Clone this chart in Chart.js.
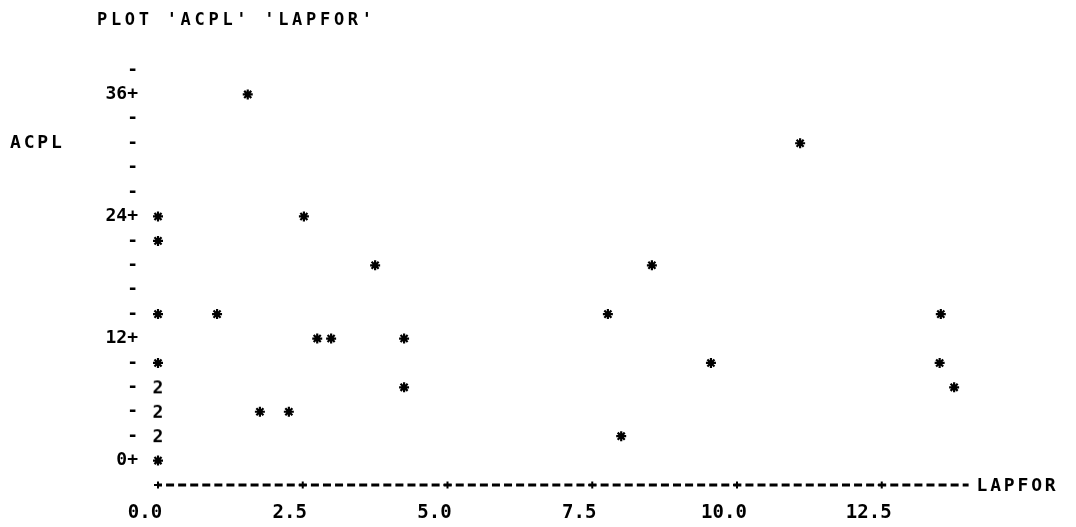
<!DOCTYPE html>
<html>
<head>
<meta charset="utf-8">
<script src="https://cdn.jsdelivr.net/npm/chart.js@4.4.1/dist/chart.umd.min.js"></script>
<style>
  html, body { margin: 0; padding: 0; background: #ffffff; }
  #c { display: block; }
</style>
</head>
<body>
<canvas id="c" width="1076" height="527"></canvas>
<script>
// Session command echoed above the plot, and the variable names
const commandLine = "PLOT 'ACPL' 'LAPFOR'";
const yName = "ACPL";
const xName = "LAPFOR";

// Observations (LAPFOR on x, ACPL on y)
const lapfor = [
  0, 0, 0, 0, 0, 0, 0, 0, 0, 0, 0,
  1.55, 2.52, 3.75, 1.02, 2.75, 2.99, 4.25, 4.25, 1.76, 2.26,
  11.09, 8.53, 7.77, 13.52, 9.55, 13.5, 13.75, 8.0
];
const acpl = [
  24, 21.6, 14.4, 9.6, 7.2, 7.2, 4.8, 4.8, 2.4, 2.4, 0,
  36, 24, 19.2, 14.4, 12, 12, 12, 7.2, 4.8, 4.8,
  31.2, 19.2, 14.4, 14.4, 9.6, 9.6, 7.2, 2.4
];

// Axis ticks: x tick values, the character rows of the y axis and the labelled rows
const xTicks = [0, 2.5, 5, 7.5, 10, 12.5];
const yRows = [0, 2.4, 4.8, 7.2, 9.6, 12, 14.4, 16.8, 19.2, 21.6, 24, 26.4, 28.8, 31.2, 33.6, 36, 38.4];
const yLabelled = [0, 12, 24, 36];
const yNameRow = 31.2;

const MONO = '"DejaVu Sans Mono", "Liberation Mono", monospace';

// Group coincident observations: single ones get '*', stacked ones get their count
const cells = new Map();
lapfor.forEach((x, i) => {
  const key = x + '|' + acpl[i];
  const cell = cells.get(key) || { x: x, y: acpl[i], n: 0 };
  cell.n += 1;
  cells.set(key, cell);
});
const singles = [];
const stacked = [];
for (const cell of cells.values()) {
  (cell.n > 1 ? stacked : singles).push(cell);
}

const glyphCache = {};
function countGlyph(n) {
  if (!glyphCache[n]) {
    const c = document.createElement('canvas');
    c.width = 16; c.height = 22;
    const g = c.getContext('2d');
    g.font = 'bold 18px ' + MONO;
    g.fillStyle = '#000';
    g.textAlign = 'center';
    g.textBaseline = 'middle';
    g.fillText(String(n), 8, 12);
    glyphCache[n] = c;
  }
  return glyphCache[n];
}

// Dashed axis line, '+' marks and the surrounding text of the character-style frame
const charFrame = {
  id: 'charFrame',
  afterDraw(chart) {
    const { ctx, chartArea, scales } = chart;
    const xs = scales.x, ys = scales.y;
    const yb = chartArea.bottom;
    ctx.save();
    ctx.fillStyle = '#000';
    ctx.strokeStyle = '#000';

    // dashed x axis
    ctx.lineWidth = 2.8;
    ctx.setLineDash([8, 4.07]);
    ctx.lineDashOffset = 4;
    ctx.beginPath();
    ctx.moveTo(chartArea.left, yb);
    ctx.lineTo(chartArea.right, yb);
    ctx.stroke();
    ctx.setLineDash([]);

    // '+' at each x tick
    ctx.lineWidth = 2;
    xs.ticks.forEach(t => {
      const px = xs.getPixelForValue(t.value);
      ctx.beginPath();
      ctx.moveTo(px - 4, yb);
      ctx.lineTo(px + 4, yb);
      ctx.moveTo(px, yb - 3.5);
      ctx.lineTo(px, yb + 3.5);
      ctx.stroke();
    });

    ctx.textBaseline = 'middle';
    ctx.textAlign = 'left';
    ctx.font = 'bold 17px ' + MONO;
    ctx.letterSpacing = '3.7px';
    ctx.fillText(commandLine, 97, 21);

    ctx.font = 'bold 18px ' + MONO;
    ctx.letterSpacing = '2.8px';
    ctx.fillText(yName, 10, ys.getPixelForValue(yNameRow));
    ctx.fillText(xName, chartArea.right + 8, yb + 1);
    ctx.letterSpacing = '0px';
    ctx.restore();
  }
};

new Chart(document.getElementById('c'), {
  type: 'scatter',
  data: {
    datasets: [
      {
        label: 'single',
        data: singles,
        clip: false,
        pointStyle: 'star',
        radius: 5,
        borderWidth: 2.2,
        borderColor: '#000',
        backgroundColor: '#000'
      },
      {
        label: 'stacked',
        data: stacked,
        clip: false,
        pointStyle: ctx => countGlyph(ctx.raw.n),
        radius: 8,
        borderWidth: 0
      }
    ]
  },
  options: {
    responsive: false,
    animation: false,
    events: [],
    layout: { padding: { top: 70, right: 107.4, bottom: 0, left: 0 } },
    plugins: {
      legend: { display: false },
      title: { display: false },
      tooltip: { enabled: false }
    },
    scales: {
      x: {
        type: 'linear',
        min: 0,
        max: 14,
        afterBuildTicks: s => { s.ticks = xTicks.map(v => ({ value: v })); },
        afterFit: s => { s.height = 42; },
        grid: { display: false, drawTicks: false },
        border: { display: false },
        ticks: {
          font: { family: MONO, size: 19, weight: 'bold' },
          color: '#000',
          padding: 17,
          labelOffset: -13,
          maxRotation: 0,
          callback: v => Number(v).toFixed(1)
        }
      },
      y: {
        type: 'linear',
        min: -2.4,
        max: 38.4,
        afterBuildTicks: s => { s.ticks = yRows.map(v => ({ value: v })); },
        afterFit: s => { s.width = 158; },
        grid: { display: false, drawTicks: false },
        border: { display: false },
        ticks: {
          font: { family: MONO, size: 18, weight: 'bold' },
          color: '#000',
          padding: 20,
          callback: v => (yLabelled.includes(v) ? v + '+' : '-')
        }
      }
    }
  },
  plugins: [charFrame]
});
</script>
</body>
</html>
